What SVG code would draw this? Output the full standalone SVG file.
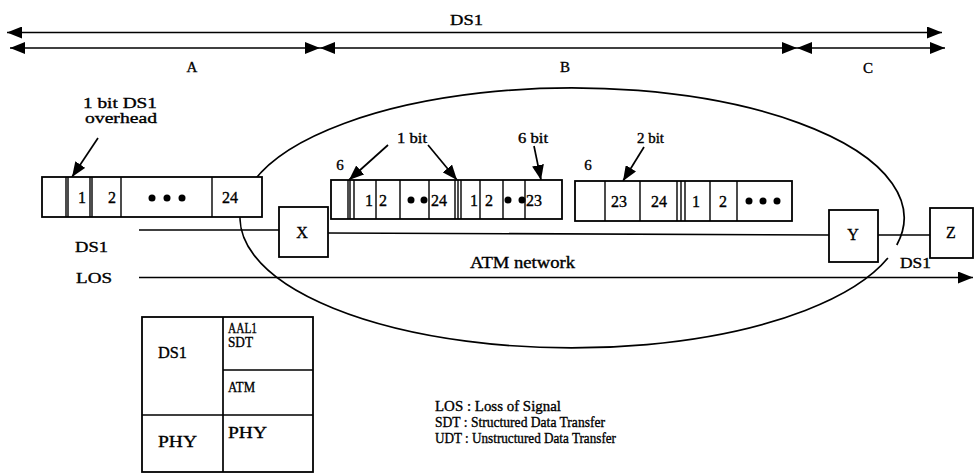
<svg xmlns="http://www.w3.org/2000/svg" width="974" height="475" viewBox="0 0 974 475">
<style>
.ln{stroke:#000;stroke-width:1.7;fill:none}
.th{stroke:#000;stroke-width:1.4;fill:none}
.bx{fill:#fff;stroke:#000;stroke-width:1.8}
text{font-family:"Liberation Serif","Times New Roman",serif;fill:#000;stroke:#000;stroke-width:0.35}
.m{text-anchor:middle}
</style>
<defs>
<marker id="ah" viewBox="0 0 15 12" refX="15" refY="6" markerWidth="15" markerHeight="12" markerUnits="userSpaceOnUse" orient="auto-start-reverse"><path d="M0,0 L15,6 L0,12 z" fill="#000"/></marker>
</defs>
<rect width="974" height="475" fill="#fff"/>

<g id="atm-network">
<path class="ln" d="M896.8,245 A332,130 0 1 0 887.9,258"/>
<text x="470" y="268" font-size="16" textLength="105" lengthAdjust="spacingAndGlyphs">ATM network</text>
</g>

<g id="connectors">
<line class="ln" x1="7" y1="32.5" x2="942" y2="32.5" marker-start="url(#ah)" marker-end="url(#ah)"/>
<line class="ln" x1="10" y1="48" x2="320" y2="48" marker-start="url(#ah)" marker-end="url(#ah)"/>
<line class="ln" x1="320" y1="48" x2="797" y2="48" marker-start="url(#ah)" marker-end="url(#ah)"/>
<line class="ln" x1="797" y1="48" x2="945" y2="48" marker-start="url(#ah)" marker-end="url(#ah)"/>
<line class="ln" x1="139" y1="230" x2="279" y2="230"/>
<line class="ln" x1="328" y1="233" x2="829" y2="235"/>
<line class="ln" x1="878" y1="235" x2="930" y2="235"/>
<line class="ln" x1="139" y1="277.5" x2="973" y2="277.5" marker-end="url(#ah)"/>
<line class="ln" x1="98" y1="138" x2="72" y2="177" marker-end="url(#ah)"/>
<line class="ln" x1="388" y1="145" x2="349" y2="180" marker-end="url(#ah)"/>
<line class="ln" x1="428" y1="145" x2="457" y2="180" marker-end="url(#ah)"/>
<line class="ln" x1="534" y1="146" x2="541" y2="180" marker-end="url(#ah)"/>
<line class="ln" x1="644" y1="147" x2="623" y2="181" marker-end="url(#ah)"/>
</g>

<g id="span-labels" font-size="15">
<text x="450" y="25" textLength="33" lengthAdjust="spacingAndGlyphs">DS1</text>
<text class="m" x="192" y="72">A</text>
<text class="m" x="565" y="72">B</text>
<text class="m" x="868" y="73">C</text>
</g>

<g id="frame-a">
<rect class="bx" x="42" y="177" width="220" height="40"/>
<path class="th" d="M66,177V217M68,177V217M90,177V217M92,177V217M121,177V217M212,177V217"/>
<g font-size="16" class="m">
<text x="82" y="203">1</text>
<text x="112" y="203">2</text>
<text x="230" y="203">24</text>
</g>
<circle cx="152" cy="198" r="3.5"/><circle cx="167" cy="198" r="3.5"/><circle cx="182" cy="198" r="3.5"/>
<text x="83" y="108" font-size="15" textLength="74" lengthAdjust="spacingAndGlyphs">1 bit DS1</text>
<text x="85" y="123" font-size="15" textLength="72" lengthAdjust="spacingAndGlyphs">overhead</text>
</g>

<g id="frame-b1">
<rect class="bx" x="331" y="180" width="231" height="39"/>
<path class="th" d="M348,180V219M350,180V219M354,180V219M376,180V219M400,180V219M429,180V219M455,180V219M458,180V219M461,180V219M480,180V219M503,180V219M525,180V219"/>
<g font-size="16" class="m">
<text x="369" y="206">1</text>
<text x="383" y="206">2</text>
<text x="439" y="206">24</text>
<text x="474" y="206">1</text>
<text x="489" y="206">2</text>
<text x="534" y="206">23</text>
</g>
<circle cx="411" cy="200" r="3.5"/><circle cx="424" cy="200" r="3.5"/><circle cx="508" cy="200" r="3.5"/><circle cx="522" cy="200" r="3.5"/>
<text class="m" x="340" y="170" font-size="15">6</text>
<text x="397" y="143" font-size="14" textLength="30" lengthAdjust="spacingAndGlyphs">1 bit</text>
<text x="518" y="143" font-size="14" textLength="30" lengthAdjust="spacingAndGlyphs">6 bit</text>
</g>

<g id="frame-b2">
<rect class="bx" x="575" y="181" width="217" height="40"/>
<path class="th" d="M605,181V221M640,181V221M677,181V221M681,181V221M685,181V221M710,181V221M737,181V221"/>
<g font-size="16" class="m">
<text x="619" y="207">23</text>
<text x="659" y="207">24</text>
<text x="696" y="207">1</text>
<text x="723" y="207">2</text>
</g>
<circle cx="749" cy="201" r="3.5"/><circle cx="763" cy="201" r="3.5"/><circle cx="777" cy="201" r="3.5"/>
<text class="m" x="588" y="170" font-size="15">6</text>
<text x="637" y="143" font-size="14" textLength="27" lengthAdjust="spacingAndGlyphs">2 bit</text>
</g>

<g id="node-x">
<rect class="bx" x="279" y="207" width="49" height="50"/>
<text class="m" x="302" y="238" font-size="16">X</text>
</g>
<g id="node-y">
<rect class="bx" x="829" y="210" width="49" height="52"/>
<text class="m" x="853" y="240" font-size="16">Y</text>
</g>
<g id="node-z">
<rect class="bx" x="930" y="208" width="43" height="50"/>
<text class="m" x="951" y="238" font-size="16">Z</text>
</g>

<g id="line-labels" font-size="15">
<text x="75" y="252" textLength="33" lengthAdjust="spacingAndGlyphs">DS1</text>
<text x="76" y="283" textLength="36" lengthAdjust="spacingAndGlyphs">LOS</text>
<text x="900" y="268" textLength="31" lengthAdjust="spacingAndGlyphs">DS1</text>
</g>

<g id="protocol-stack">
<rect class="bx" x="142" y="317" width="171" height="155"/>
<path class="ln" d="M223,317V472M142,415H313M223,370H313"/>
<text x="158" y="358" font-size="16" textLength="29" lengthAdjust="spacingAndGlyphs">DS1</text>
<text x="228" y="333" font-size="14" textLength="29" lengthAdjust="spacingAndGlyphs">AAL1</text>
<text x="228" y="347" font-size="14" textLength="25" lengthAdjust="spacingAndGlyphs">SDT</text>
<text x="228" y="392" font-size="15" textLength="27" lengthAdjust="spacingAndGlyphs">ATM</text>
<text x="158" y="447" font-size="16" textLength="39" lengthAdjust="spacingAndGlyphs">PHY</text>
<text x="228" y="438" font-size="16" textLength="39" lengthAdjust="spacingAndGlyphs">PHY</text>
</g>

<g id="legend" font-size="15">
<text x="435" y="411" textLength="126" lengthAdjust="spacingAndGlyphs">LOS : Loss of Signal</text>
<text x="435" y="427" textLength="170" lengthAdjust="spacingAndGlyphs">SDT : Structured Data Transfer</text>
<text x="435" y="443" textLength="181" lengthAdjust="spacingAndGlyphs">UDT : Unstructured Data Transfer</text>
</g>
</svg>
